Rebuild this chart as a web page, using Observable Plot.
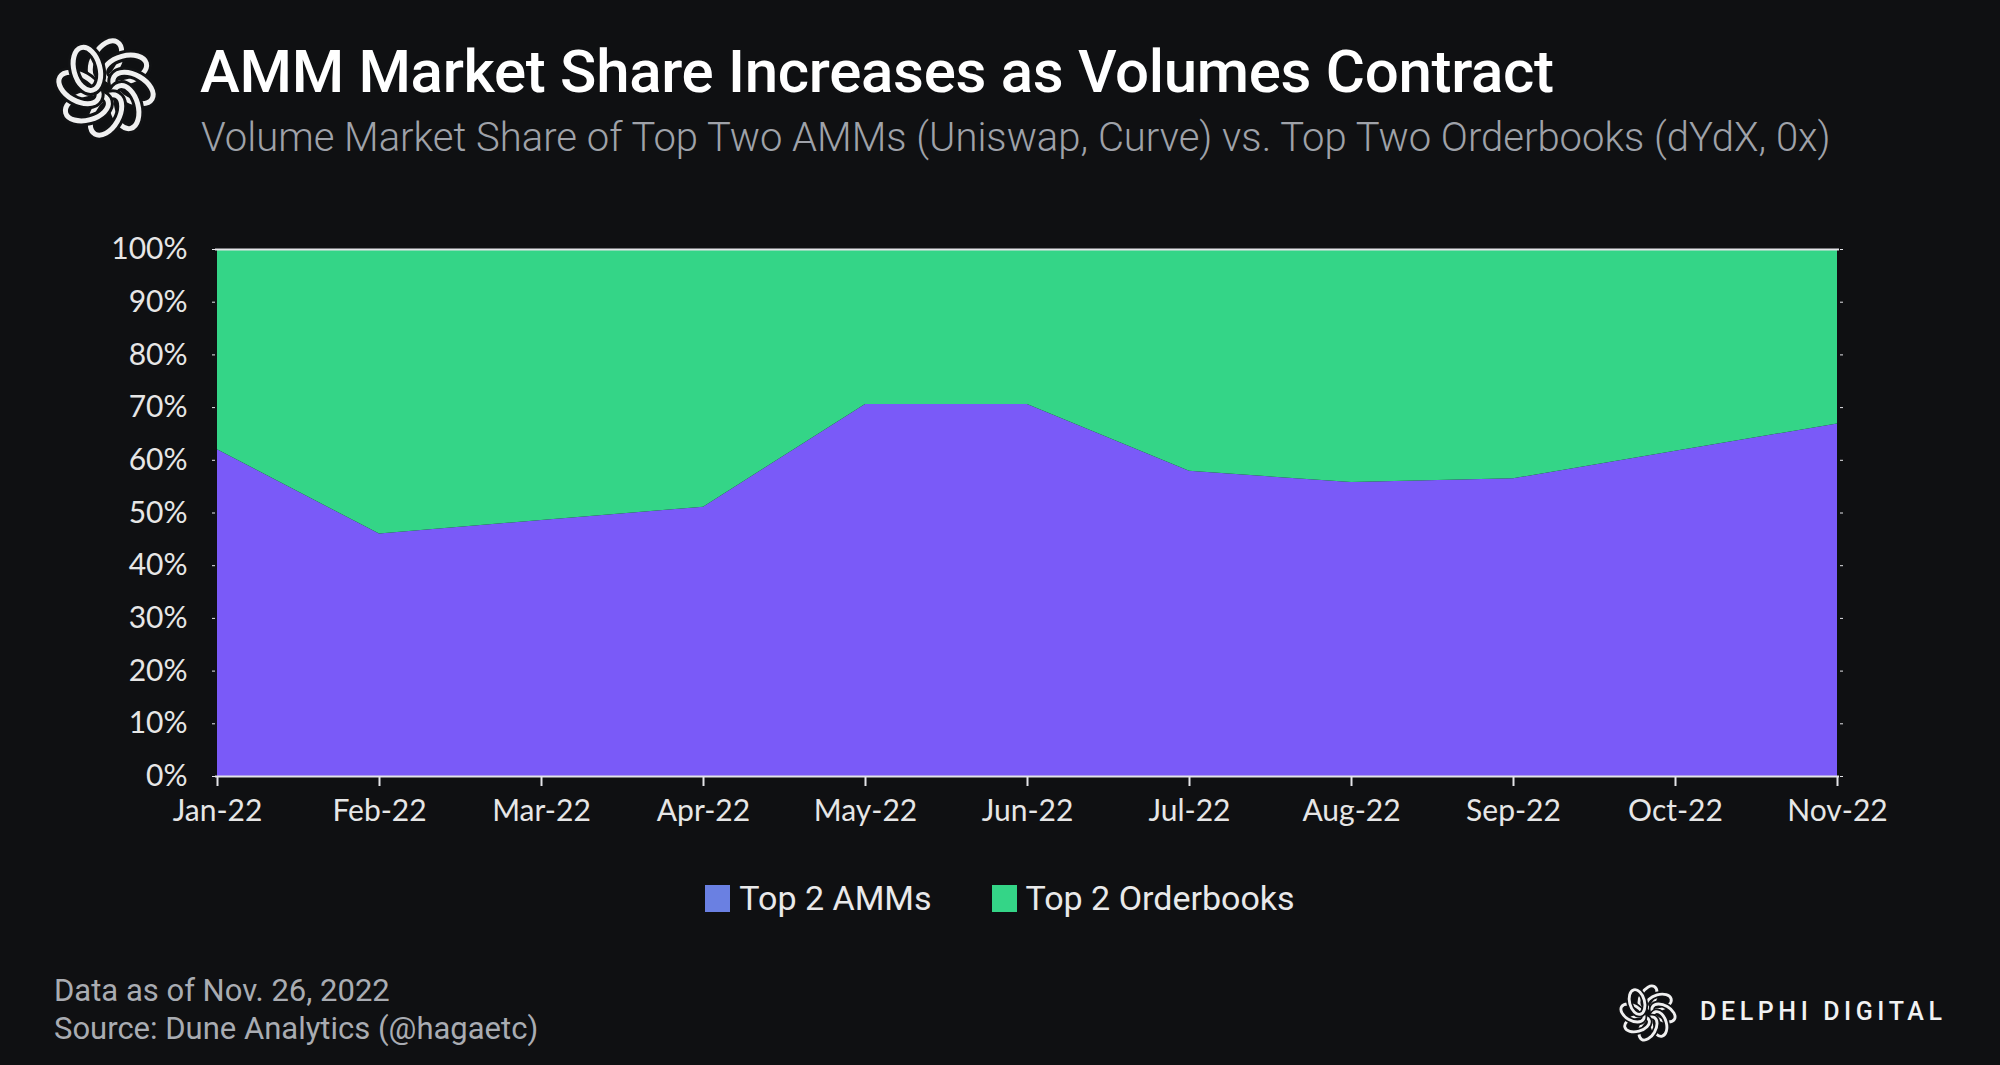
<!DOCTYPE html>
<html>
<head>
<meta charset="utf-8">
<script src="https://cdn.jsdelivr.net/npm/d3@7"></script>
<script src="https://cdn.jsdelivr.net/npm/@observablehq/plot@0.6"></script>
<style>
  html, body { margin: 0; padding: 0; background: #0f1012; }
  #page { position: relative; width: 2000px; height: 1065px; background: #0f1012; overflow: hidden; font-family: Roboto, "Noto Sans", sans-serif; }
  #title { position: absolute; left: 200px; top: 36px; font-size: 60px; font-weight: 500; color: #ffffff; white-space: nowrap; letter-spacing: -0.3px; }
  #subtitle { position: absolute; left: 201px; top: 114px; font-size: 40px; font-weight: 300; color: #9fa2a9; white-space: nowrap; }
  #chart { position: absolute; left: 0; top: 200px; }
  #legend { position: absolute; left: 0; width: 2000px; top: 878px; display: flex; justify-content: center; gap: 60px; font-size: 34px; color: #e9e9ea; font-weight: 400; }
  .item { display: flex; align-items: center; gap: 9px; }
  .sw { width: 25px; height: 27px; display: inline-block; }
  #footer { position: absolute; left: 54px; top: 972px; font-size: 31px; color: #a9acb2; line-height: 38px; font-weight: 400; }
  #brand { position: absolute; left: 1700px; top: 997px; font-size: 25px; color: #f2f2f2; letter-spacing: 4.6px; font-weight: 500; white-space: nowrap; }
  .logo { position: absolute; }
</style>
</head>
<body>
<div id="page">
  <svg class="logo" id="logo1" style="left:52px;top:34px" width="108" height="108" viewBox="-54 -54 108 108"></svg>
  <div id="title">AMM Market Share Increases as Volumes Contract</div>
  <div id="subtitle">Volume Market Share of Top Two AMMs (Uniswap, Curve) vs. Top Two Orderbooks (dYdX, 0x)</div>
  <div id="chart"></div>
  <div id="legend"></div>
  <div id="footer">Data as of Nov. 26, 2022<br>Source: Dune Analytics (@hagaetc)</div>
  <svg class="logo" id="logo2" style="left:1617px;top:982px" width="62" height="62" viewBox="-54 -54 108 108"></svg>
  <div id="brand">DELPHI DIGITAL</div>
</div>
<script>
// ---- data ----
const months = ["Jan-22","Feb-22","Mar-22","Apr-22","May-22","Jun-22","Jul-22","Aug-22","Sep-22","Oct-22","Nov-22"];
const ammShare = [62.0, 46.0, 48.6, 51.1, 70.6, 70.6, 57.9, 55.8, 56.5, 61.7, 66.9];
const orderbookShare = [38.0, 54.0, 51.4, 48.9, 29.4, 29.4, 42.1, 44.2, 43.5, 38.3, 33.1];
const seriesNames = ["Top 2 AMMs", "Top 2 Orderbooks"];
const yTicks = [0, 10, 20, 30, 40, 50, 60, 70, 80, 90, 100];

const areaColors = ["#7a5af8", "#34d587"];
const legendColors = ["#6a80e2", "#34d587"];

const rows = [];
months.forEach((m, i) => {
  rows.push({month: m, series: seriesNames[0], share: ammShare[i]});
  rows.push({month: m, series: seriesNames[1], share: orderbookShare[i]});
});

const chart = Plot.plot({
  width: 2000,
  height: 630,
  marginTop: 49,
  marginBottom: 54,
  marginLeft: 215,
  marginRight: 161,
  style: {background: "transparent", color: "#e6e6e6", fontFamily: "Lato, sans-serif", fontSize: "30px"},
  x: {type: "point", domain: months, padding: 0, label: null},
  y: {domain: [0, 100], label: null},
  color: {domain: seriesNames, range: areaColors},
  marks: [
    Plot.areaY(rows, {x: "month", y: "share", fill: "series", order: seriesNames, curve: "linear"}),
    Plot.ruleY([0, 100], {stroke: "#e4e4e8", strokeWidth: 2}),
    Plot.axisX({tickSize: 10, tickPadding: 13, stroke: "#e4e4e8", strokeWidth: 2, fill: "#e6e6e6"}),
    Plot.axisY({ticks: yTicks, tickSize: 3, tickPadding: 25, tickFormat: d => d + "%", stroke: "#e4e4e8", fill: "#e6e6e6"}),
    Plot.axisY({anchor: "right", ticks: yTicks, tickSize: 3, tickFormat: () => "", stroke: "#e4e4e8"})
  ]
});
document.getElementById("chart").appendChild(chart);

// ---- legend ----
const legend = document.getElementById("legend");
seriesNames.forEach((name, i) => {
  const it = document.createElement("div");
  it.className = "item";
  const sw = document.createElement("span");
  sw.className = "sw";
  sw.style.background = legendColors[i];
  const tx = document.createElement("span");
  tx.textContent = name;
  it.appendChild(sw); it.appendChild(tx);
  legend.appendChild(it);
});

// ---- decorative logo (woven ring) ----
function drawLogo(id) {
  const svg = d3.select("#" + id);
  for (let k = 0; k < 8; k++) {
    svg.append("ellipse")
      .attr("cx", 0).attr("cy", -27).attr("rx", 13).attr("ry", 22)
      .attr("transform", `rotate(${k * 45}) rotate(30 0 -27)`)
      .attr("fill", "none").attr("stroke", "#111214").attr("stroke-width", 11);
    svg.append("ellipse")
      .attr("cx", 0).attr("cy", -27).attr("rx", 13).attr("ry", 22)
      .attr("transform", `rotate(${k * 45}) rotate(30 0 -27)`)
      .attr("fill", "none").attr("stroke", "#f0f0f0").attr("stroke-width", 5);
  }
}
drawLogo("logo1");
drawLogo("logo2");
</script>
</body>
</html>
